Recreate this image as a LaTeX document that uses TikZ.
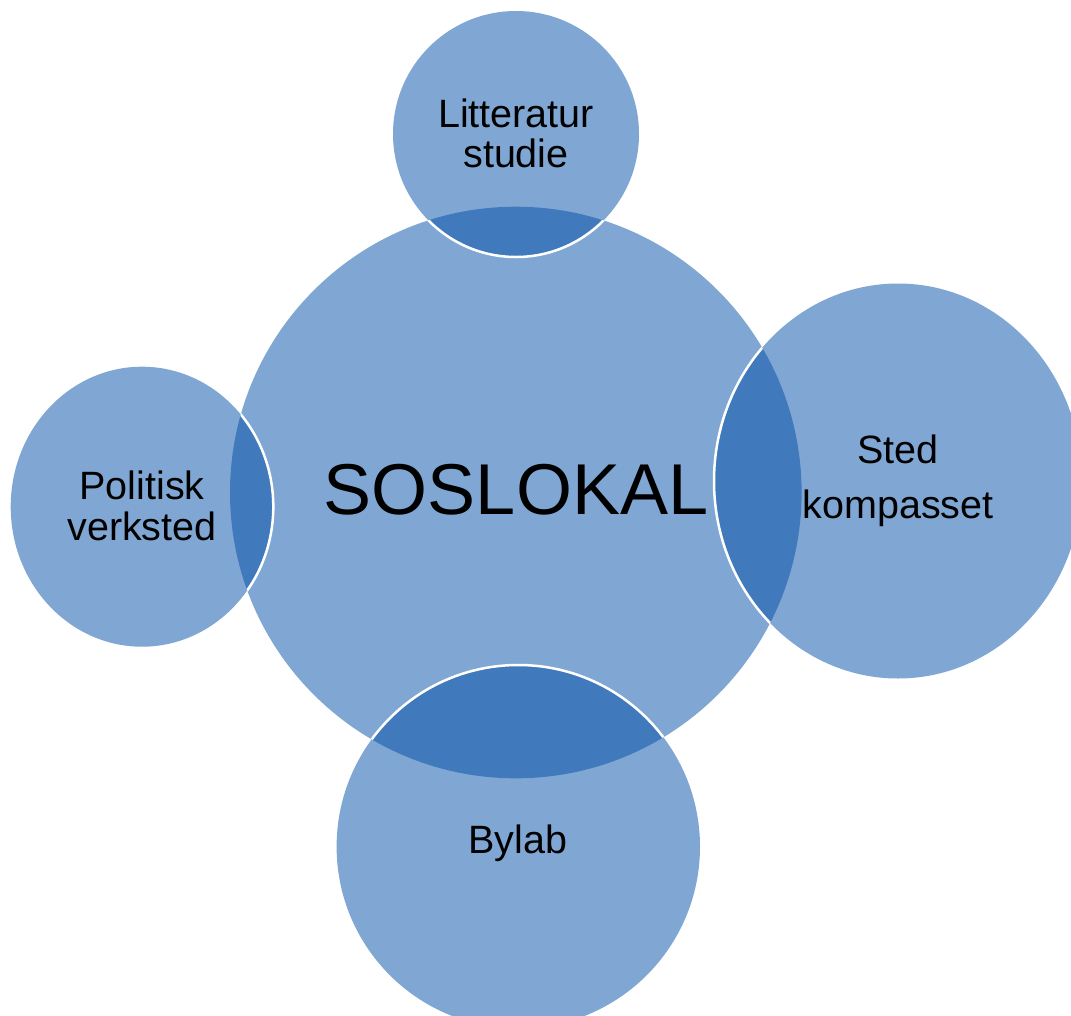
\documentclass[tikz,border=0pt]{standalone}
\usepackage{fontspec}
\setmainfont{Liberation Sans}
\definecolor{lightblu}{RGB}{128,167,211}
\definecolor{darkblu}{RGB}{64,122,188}
\begin{document}
\begin{tikzpicture}[x=1pt,y=-1pt,
  bubble/.style={fill=lightblu},
  lens/.style={fill=darkblu},
  rim/.style={draw=white,line width=2.5pt},
  lbl/.style={align=center,text=black,inner sep=0pt,font=\fontsize{39.5}{40}\selectfont},
  big/.style={align=center,text=black,inner sep=0pt,font=\fontsize{72}{80}\selectfont}]
\useasboundingbox (0,0) rectangle (1071,1015);
% shape definitions
\def\mainC{(515.8,492.5) circle [radius=285.8pt]}
\def\topC{(516,134) circle [radius=123pt]}
\def\leftC{(142,506.7) circle [x radius=131.3pt, y radius=140pt]}
\def\rightC{(898,481) circle [x radius=184pt, y radius=197.5pt]}
\def\botC{(518.3,846.7) circle [radius=181.7pt]}
% fills
\fill[bubble] \mainC;
\fill[bubble] \topC;
\fill[bubble] \leftC;
\fill[bubble] \rightC;
\fill[bubble] \botC;
% overlaps
\begin{scope}
  \clip \mainC;
  \fill[lens] \topC;
  \fill[lens] \leftC;
  \fill[lens] \rightC;
  \fill[lens] \botC;
  \draw[rim] \topC;
  \draw[rim] \leftC;
  \draw[rim] \rightC;
  \draw[rim] \botC;
\end{scope}
% labels
\node[big] (main) at (516,490) {SOSLOKAL};
\node[lbl] (lit) at (516,133) {Litteratur\\studie};
\node[lbl,font=\fontsize{39.5}{41}\selectfont] (pol) at (142,506) {Politisk\\verksted};
\node[lbl,font=\fontsize{39.5}{55}\selectfont] (sted) at (898,481) {Sted\\kompasset};
\node[lbl] (byl) at (518,843) {Bylab};
\end{tikzpicture}
\end{document}
